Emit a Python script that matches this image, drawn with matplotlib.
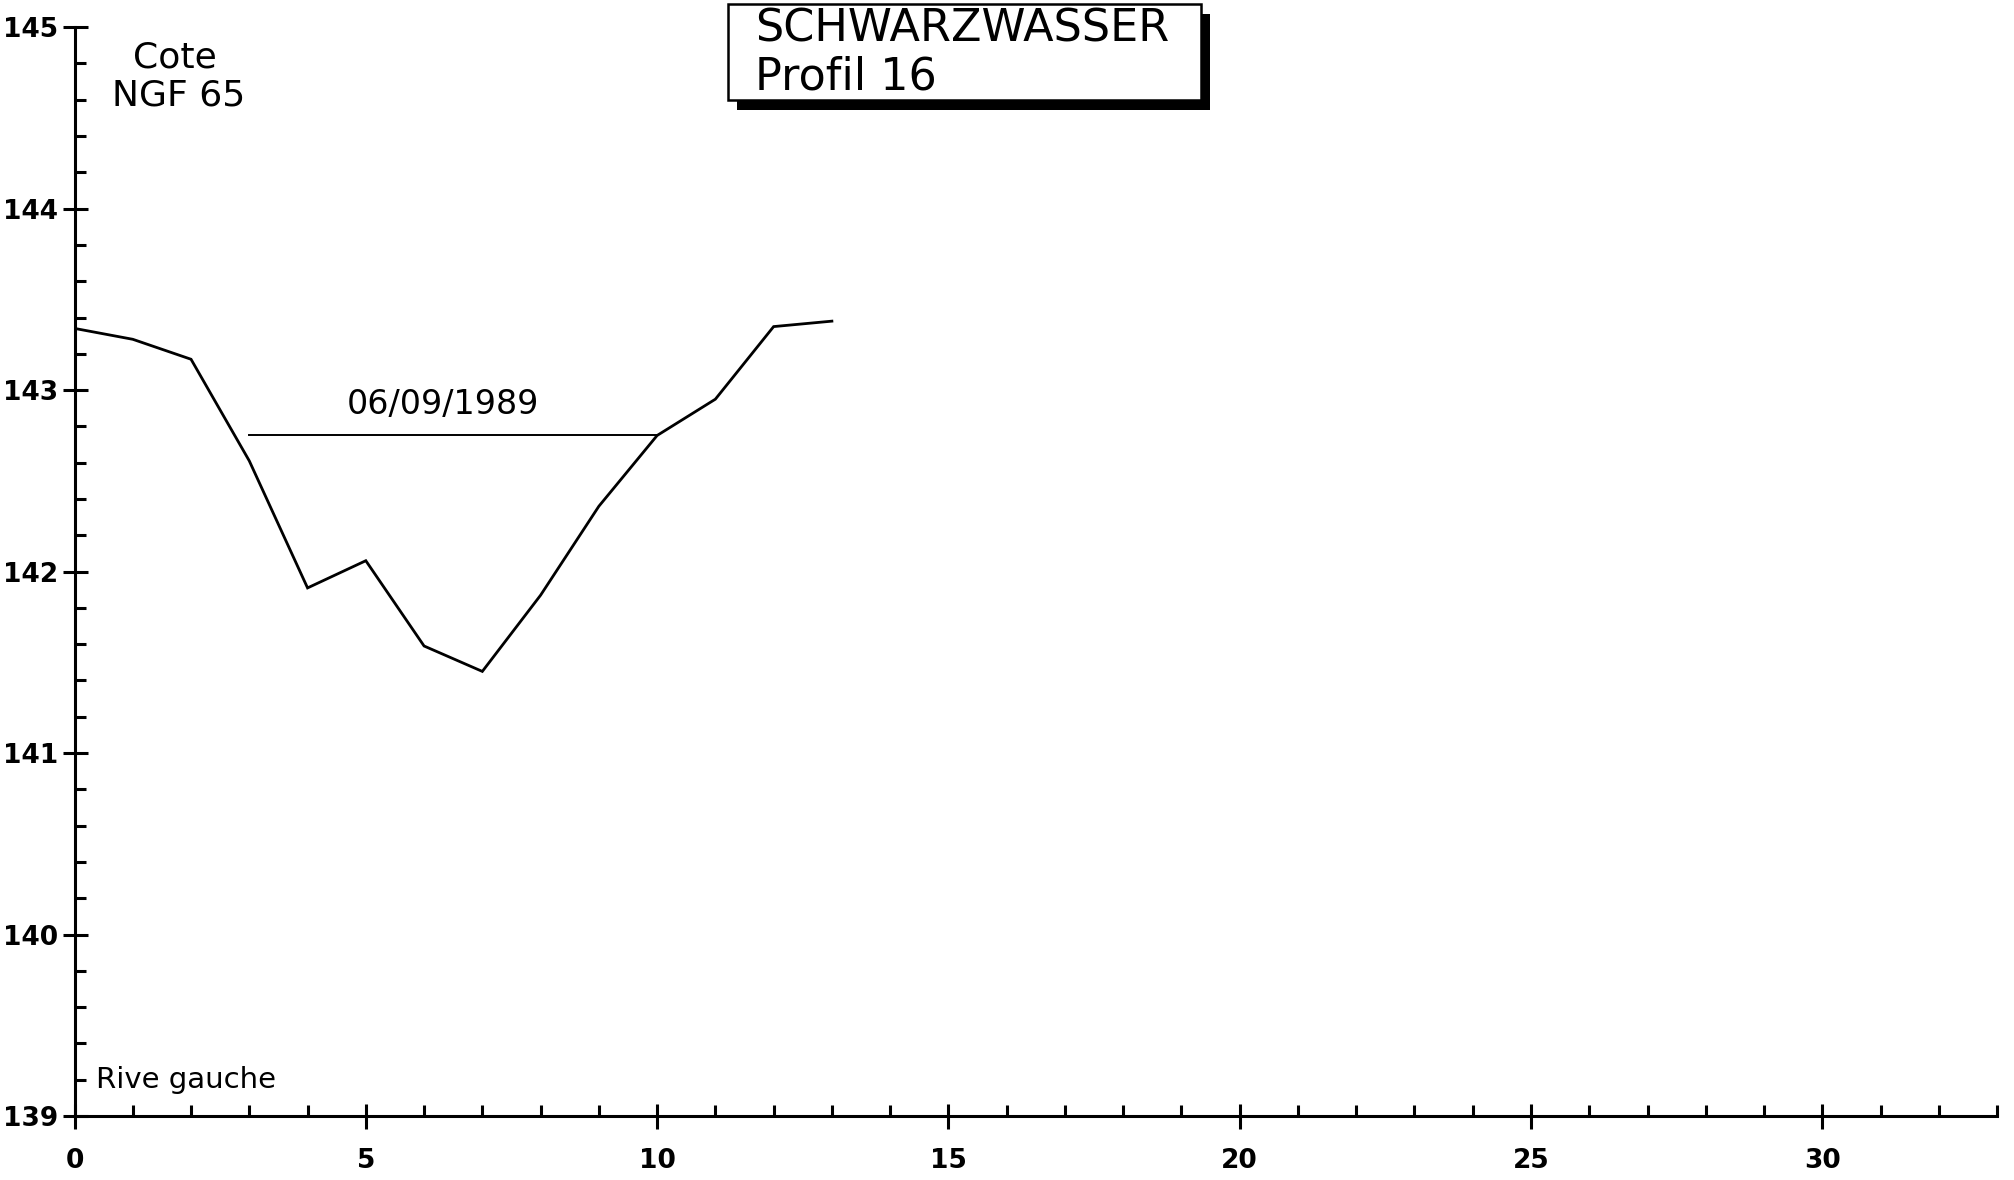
"""Cross-section of the Schwarzwasser, profile 16, with the water level of 06/09/1989."""

import matplotlib
matplotlib.use("Agg")
from matplotlib import pyplot as plt
from matplotlib.patches import Rectangle
from matplotlib.ticker import MultipleLocator

# bed profile: distance from left bank [m] vs. elevation [m NGF 65]
distance = [0, 1, 2, 3, 4, 5, 6, 7, 8, 9, 10, 11, 12, 13]
elevation = [143.34, 143.28, 143.17, 142.61, 141.91, 142.06, 141.59,
             141.45, 141.87, 142.36, 142.75, 142.95, 143.35, 143.38]

# water surface
water_x = [3, 10]
water_level = [142.75, 142.75]
water_date = "06/09/1989"

river = "SCHWARZWASSER"
profile = "Profil 16"

TICK_FONT = dict(family=["Liberation Sans Narrow", "DejaVu Sans"], weight="bold", size=19)


def main():
    fig = plt.figure(figsize=(20.14, 11.8), dpi=100)
    ax = fig.add_axes([0.037, 0.0542, 0.9546, 0.9228])

    ax.plot(distance, elevation, color="black", lw=2.0, solid_joinstyle="miter")
    ax.plot(water_x, water_level, color="black", lw=1.4)
    ax.text(6.32, 142.87, water_date, ha="center", va="baseline",
            fontsize=24, fontweight="medium")

    ax.set_xlim(0, 33)
    ax.set_ylim(139, 145)
    for side in ("top", "right"):
        ax.spines[side].set_visible(False)
    for side in ("left", "bottom"):
        ax.spines[side].set_linewidth(2.2)

    ax.xaxis.set_major_locator(MultipleLocator(5))
    ax.xaxis.set_minor_locator(MultipleLocator(1))
    ax.yaxis.set_major_locator(MultipleLocator(1))
    ax.yaxis.set_minor_locator(MultipleLocator(0.2))
    ax.tick_params(which="major", direction="inout", length=18, width=2.2)
    ax.tick_params(which="minor", direction="in", length=8, width=2.2)
    ax.tick_params(axis="x", which="major", pad=14)
    ax.tick_params(axis="y", which="major", pad=3)
    for lab in ax.get_xticklabels() + ax.get_yticklabels():
        lab.set(**TICK_FONT)

    ax.text(1.0, 144.78, "Cote", ha="left", va="baseline", fontsize=26)
    ax.text(0.64, 144.57, "NGF 65", ha="left", va="baseline", fontsize=26)
    ax.text(0.37, 139.157, "Rive gauche", ha="left", va="baseline", fontsize=21)

    # title box with drop shadow, in figure pixels
    W, H = 2014, 1180
    x0, x1, top, bot = 728, 1201, 4, 100
    shadow = Rectangle(((x0 + 9) / W, 1 - (bot + 10) / H), (x1 - x0) / W, (bot - top) / H,
                       transform=fig.transFigure, facecolor="black", edgecolor="none")
    box = Rectangle((x0 / W, 1 - bot / H), (x1 - x0) / W, (bot - top) / H,
                    transform=fig.transFigure, facecolor="white", edgecolor="black", lw=1.8)
    fig.add_artist(shadow)
    fig.add_artist(box)
    fig.text(755 / W, 1 - 42 / H, river, ha="left", va="baseline", fontsize=32)
    fig.text(755 / W, 1 - 90 / H, profile, ha="left", va="baseline", fontsize=32)

    fig.savefig("out.png", dpi=100)


if __name__ == "__main__":
    main()
